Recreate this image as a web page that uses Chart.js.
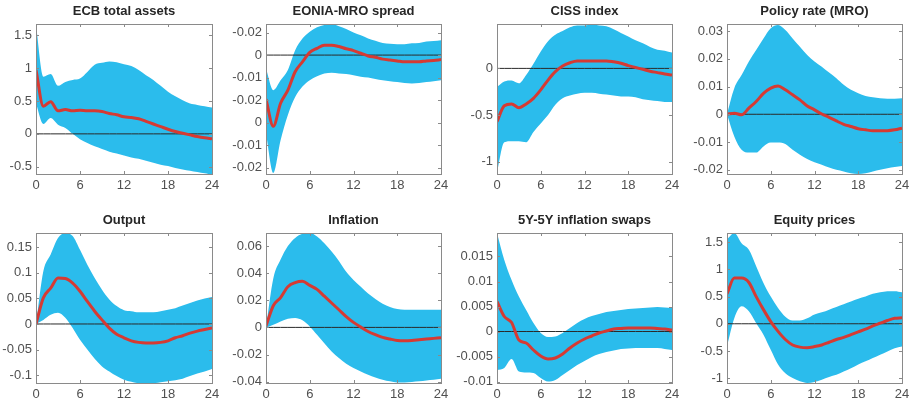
<!DOCTYPE html>
<html>
<head>
<meta charset="utf-8">
<script src="https://cdn.jsdelivr.net/npm/chart.js@4.4.1/dist/chart.umd.min.js"></script>
<style>
  html, body { margin: 0; padding: 0; background: #fff; }
  #wrap { position: relative; width: 912px; height: 405px; overflow: hidden; }
  .panel { position: absolute; }
</style>
</head>
<body>
<div id="wrap"></div>
<script>
// horizon (months)
const horizon = [0,1,2,3,4,5,6,7,8,9,10,11,12,13,14,15,16,17,18,19,20,21,22,23,24];

const titles = ['ECB total assets', 'EONIA-MRO spread', 'CISS index', 'Policy rate (MRO)',
                'Output', 'Inflation', '5Y-5Y inflation swaps', 'Equity prices'];

// median responses
const ecbMed    = [0.97,0.42,0.49,0.35,0.37,0.35,0.36,0.35,0.35,0.34,0.31,0.29,0.26,0.25,0.23,0.19,0.15,0.11,0.07,0.035,0.01,-0.015,-0.04,-0.06,-0.075];
const eoniaMed  = [-0.0098,-0.0158,-0.0107,-0.0078,-0.0037,-0.0015,0.0006,0.0015,0.0022,0.0022,0.0019,0.0014,0.001,0.0004,-0.0002,-0.0005,-0.0009,-0.0011,-0.0013,-0.0015,-0.0015,-0.0015,-0.0013,-0.0012,-0.001];
const cissMed   = [-0.57,-0.40,-0.38,-0.42,-0.38,-0.32,-0.23,-0.125,-0.035,0.025,0.06,0.08,0.08,0.08,0.08,0.08,0.07,0.055,0.03,0.01,-0.01,-0.03,-0.045,-0.06,-0.07];
const policyMed = [0,0.0004,-0.0002,0.0022,0.0046,0.0075,0.0094,0.0102,0.0088,0.007,0.0052,0.003,0.0016,0.0001,-0.0011,-0.0024,-0.0036,-0.0044,-0.0052,-0.0056,-0.0059,-0.0059,-0.0059,-0.0056,-0.005];
const outputMed = [0,0.051,0.07,0.09,0.089,0.08,0.064,0.044,0.025,0.008,-0.008,-0.02,-0.027,-0.033,-0.036,-0.037,-0.037,-0.036,-0.033,-0.027,-0.023,-0.018,-0.014,-0.011,-0.008];
const inflMed   = [0.001,0.016,0.022,0.03,0.033,0.034,0.031,0.028,0.023,0.018,0.013,0.008,0.0037,0.0002,-0.003,-0.0054,-0.0074,-0.0086,-0.0096,-0.0098,-0.0096,-0.0091,-0.0086,-0.0081,-0.0076];
const swapMed   = [0.006,0.003,0.0018,-0.0017,-0.0023,-0.0037,-0.0049,-0.0055,-0.0053,-0.0045,-0.0033,-0.0023,-0.0015,-0.0009,-0.0003,0.0001,0.0005,0.0006,0.0007,0.0007,0.0007,0.0007,0.0006,0.0005,0.0003];
const equityMed = [0.55,0.84,0.84,0.76,0.5,0.26,0.04,-0.14,-0.29,-0.39,-0.43,-0.44,-0.42,-0.39,-0.34,-0.29,-0.25,-0.2,-0.15,-0.1,-0.04,0.01,0.06,0.1,0.11];

// upper bands
const ecbHi    = [1.65,0.87,0.91,0.73,0.79,0.82,0.84,0.94,1.05,1.08,1.1,1.09,1.06,1.03,0.97,0.89,0.82,0.73,0.64,0.57,0.51,0.46,0.44,0.42,0.4];
const eoniaHi  = [-0.003,-0.0078,-0.0056,-0.0033,0.0011,0.0037,0.0052,0.0062,0.0067,0.0069,0.0064,0.0058,0.005,0.0044,0.0037,0.0032,0.0027,0.0025,0.0024,0.0024,0.0026,0.0027,0.003,0.0031,0.0033];
const cissHi   = [-0.2,-0.14,-0.13,-0.16,-0.07,0.05,0.18,0.29,0.36,0.4,0.44,0.46,0.46,0.47,0.46,0.45,0.42,0.38,0.34,0.3,0.27,0.23,0.2,0.19,0.17];
const policyHi = [0,0.0094,0.0141,0.019,0.0231,0.0273,0.031,0.0321,0.0303,0.0273,0.0243,0.0213,0.019,0.0171,0.015,0.013,0.0106,0.0088,0.0076,0.0066,0.0061,0.0058,0.0056,0.0056,0.0058];
const outputHi = [0,0.103,0.136,0.168,0.178,0.172,0.145,0.116,0.09,0.067,0.048,0.035,0.027,0.025,0.023,0.023,0.023,0.025,0.028,0.031,0.036,0.041,0.046,0.05,0.053];
const inflHi   = [0,0.036,0.05,0.06,0.066,0.069,0.0696,0.067,0.062,0.056,0.049,0.041,0.035,0.03,0.025,0.021,0.0175,0.015,0.0135,0.013,0.013,0.013,0.013,0.013,0.013];
const swapHi   = [0.0197,0.0143,0.0103,0.007,0.0043,0.0017,-0.0003,-0.0011,-0.001,-0.0003,0.0007,0.0017,0.0025,0.0031,0.0035,0.0039,0.0041,0.0043,0.0045,0.0046,0.0047,0.0048,0.0049,0.0048,0.0047];
const equityHi = [1.55,1.67,1.48,1.36,1.06,0.75,0.5,0.29,0.13,0.06,0.06,0.1,0.17,0.21,0.26,0.31,0.36,0.41,0.46,0.5,0.55,0.58,0.6,0.6,0.58];

// lower bands
const ecbLo    = [0.46,0.15,0.24,0.14,0.09,0,-0.08,-0.14,-0.19,-0.23,-0.27,-0.3,-0.33,-0.36,-0.38,-0.41,-0.44,-0.47,-0.49,-0.52,-0.54,-0.56,-0.58,-0.6,-0.62];
const eoniaLo  = [-0.0174,-0.0262,-0.0189,-0.0133,-0.0093,-0.007,-0.0056,-0.0047,-0.0041,-0.0039,-0.0041,-0.0042,-0.0045,-0.0048,-0.005,-0.0053,-0.0056,-0.0058,-0.006,-0.0062,-0.0063,-0.0062,-0.006,-0.0058,-0.0056];
const cissLo   = [-1.12,-0.79,-0.78,-0.78,-0.79,-0.68,-0.59,-0.5,-0.39,-0.32,-0.29,-0.27,-0.26,-0.26,-0.27,-0.28,-0.29,-0.3,-0.3,-0.31,-0.33,-0.34,-0.35,-0.36,-0.36];
const policyLo = [0,-0.008,-0.0128,-0.0138,-0.0138,-0.0116,-0.0102,-0.0102,-0.0107,-0.0128,-0.0146,-0.0161,-0.0173,-0.0182,-0.0192,-0.02,-0.0206,-0.0212,-0.0215,-0.0212,-0.0206,-0.02,-0.0194,-0.019,-0.0186];
const outputLo = [0,0.008,0.018,0.022,0.012,-0.008,-0.031,-0.05,-0.068,-0.083,-0.093,-0.102,-0.109,-0.113,-0.116,-0.117,-0.116,-0.114,-0.112,-0.11,-0.107,-0.102,-0.097,-0.093,-0.088];
const inflLo   = [0,0.002,0.0044,0.0064,0.0069,0.0052,0.0007,-0.0054,-0.0116,-0.0177,-0.0226,-0.0268,-0.03,-0.0325,-0.0349,-0.0369,-0.0386,-0.0398,-0.0406,-0.0406,-0.0403,-0.0398,-0.0391,-0.0386,-0.0379];
const swapLo   = [-0.0077,-0.0073,-0.0055,-0.008,-0.0082,-0.0083,-0.0093,-0.01,-0.0097,-0.0087,-0.0077,-0.0067,-0.0059,-0.0051,-0.0045,-0.0041,-0.0038,-0.0035,-0.0034,-0.0033,-0.0033,-0.0033,-0.0033,-0.0035,-0.0037];
const equityLo = [-0.42,0.1,0.32,0.23,0.01,-0.2,-0.48,-0.75,-0.91,-1.0,-1.06,-1.09,-1.07,-1.03,-0.98,-0.94,-0.88,-0.82,-0.75,-0.69,-0.63,-0.57,-0.51,-0.45,-0.42];

// y tick values and their printed labels
const ecbTicks    = [-0.5, 0, 0.5, 1, 1.5];
const eoniaTicks  = [-0.025, -0.02, -0.015, -0.01, -0.005, 0, 0.005];
const eoniaLabels = ['-0.02', '-0.01', '0', '-0.02', '-0.01', '0', '-0.02'];
const cissTicks   = [-1, -0.5, 0];
const policyTicks = [-0.02, -0.01, 0, 0.01, 0.02, 0.03];
const outputTicks = [-0.1, -0.05, 0, 0.05, 0.1, 0.15];
const inflTicks   = [-0.04, -0.02, 0, 0.02, 0.04, 0.06];
const swapTicks   = [-0.01, -0.005, 0, 0.005, 0.01, 0.015];
const equityTicks = [-1, -0.5, 0, 0.5, 1, 1.5];
const xTicks      = [0, 6, 12, 18, 24];

// y axis ranges
const yMins = [-0.61, -0.0264, -1.13, -0.0215, -0.1155, -0.041, -0.0103, -1.09];
const yMaxs = [1.67, 0.0069, 0.475, 0.0325, 0.178, 0.0696, 0.0197, 1.67];

const meds   = [ecbMed, eoniaMed, cissMed, policyMed, outputMed, inflMed, swapMed, equityMed];
const highs  = [ecbHi, eoniaHi, cissHi, policyHi, outputHi, inflHi, swapHi, equityHi];
const lows   = [ecbLo, eoniaLo, cissLo, policyLo, outputLo, inflLo, swapLo, equityLo];
const yTicks = [ecbTicks, eoniaTicks, cissTicks, policyTicks, outputTicks, inflTicks, swapTicks, equityTicks];
const yLabels = [null, eoniaLabels, null, null, null, null, null, null];

// layout of plot areas (pixels)
const colLeft  = [36, 266, 497, 727];
const colRight = [212, 441, 672, 902];
const rowTop   = [24, 233];
const plotH    = 150;
const titleH   = 24;
const xAxisH   = 22;
const padRight = 10;

const bandColor = '#2bbcec';
const lineColor = '#d63a33';
const axisColor = '#8a8a8a';
const textColor = '#505050';
const fontFamily = "'Liberation Sans', Arial, Helvetica, sans-serif";

const boxPlugin = {
    id: 'box',
    afterDraw(chart) {
        const a = chart.chartArea;
        const ctx = chart.ctx;
        const xs = chart.scales.x, ys = chart.scales.y;
        ctx.save();
        ctx.strokeStyle = axisColor;
        ctx.lineWidth = 1;
        ctx.strokeRect(Math.round(a.left) + 0.5, Math.round(a.top) + 0.5,
                       Math.round(a.right - a.left), Math.round(a.bottom - a.top));
        ctx.beginPath();
        xs.ticks.forEach(t => {
            const px = Math.round(xs.getPixelForValue(t.value)) + 0.5;
            ctx.moveTo(px, a.bottom); ctx.lineTo(px, a.bottom - 3);
            ctx.moveTo(px, a.top); ctx.lineTo(px, a.top + 3);
        });
        ys.ticks.forEach(t => {
            const py = Math.round(ys.getPixelForValue(t.value)) + 0.5;
            ctx.moveTo(a.left, py); ctx.lineTo(a.left + 3, py);
            ctx.moveTo(a.right, py); ctx.lineTo(a.right - 3, py);
        });
        ctx.stroke();
        ctx.restore();
    }
};

const wrap = document.getElementById('wrap');

titles.forEach((title, i) => {
    const col = i % 4, row = Math.floor(i / 4);
    const yW = col === 0 ? 36 : 48;
    const left = colLeft[col] - yW;
    const top = rowTop[row] - titleH;
    const width = yW + (colRight[col] - colLeft[col]) + padRight;
    const height = titleH + plotH + xAxisH;

    const box = document.createElement('div');
    box.className = 'panel';
    box.style.left = left + 'px';
    box.style.top = top + 'px';
    box.style.width = width + 'px';
    box.style.height = height + 'px';
    const cv = document.createElement('canvas');
    box.appendChild(cv);
    wrap.appendChild(box);

    const pts = arr => horizon.map((h, k) => ({ x: h, y: arr[k] }));
    const labels = yLabels[i];
    const ticksY = yTicks[i];

    new Chart(cv, {
        type: 'line',
        data: {
            datasets: [{
                data: pts(meds[i]),
                borderColor: lineColor,
                borderWidth: 3,
                pointRadius: 0,
                cubicInterpolationMode: 'monotone',
                fill: false
            }, {
                data: pts(horizon.map(() => 0)),
                borderColor: '#2a2a2a',
                borderWidth: 1,
                pointRadius: 0,
                fill: false
            }, {
                data: pts(highs[i]),
                borderWidth: 0,
                borderColor: bandColor,
                backgroundColor: bandColor,
                pointRadius: 0,
                cubicInterpolationMode: 'monotone',
                fill: '+1'
            }, {
                data: pts(lows[i]),
                borderWidth: 0,
                borderColor: bandColor,
                pointRadius: 0,
                cubicInterpolationMode: 'monotone',
                fill: false
            }]
        },
        options: {
            responsive: true,
            maintainAspectRatio: false,
            animation: false,
            layout: { padding: { left: 0, right: padRight, top: 0, bottom: 0 } },
            plugins: {
                legend: { display: false },
                tooltip: { enabled: false },
                title: {
                    display: true,
                    fullSize: false,
                    text: title,
                    color: '#262626',
                    font: { family: fontFamily, size: 13, weight: 'bold', lineHeight: 1.2 },
                    padding: { top: 4, bottom: 4.4 }
                }
            },
            scales: {
                x: {
                    type: 'linear',
                    min: 0,
                    max: 24,
                    grid: { display: false, drawTicks: false },
                    border: { display: false },
                    afterBuildTicks: s => { s.ticks = xTicks.map(v => ({ value: v })); },
                    afterFit: s => { s.height = xAxisH; s.paddingLeft = 0; s.paddingRight = 0; },
                    ticks: {
                        color: textColor,
                        padding: 4,
                        maxRotation: 0,
                        autoSkip: false,
                        font: { family: fontFamily, size: 13 },
                        callback: v => String(v)
                    }
                },
                y: {
                    min: yMins[i],
                    max: yMaxs[i],
                    grid: { display: false, drawTicks: false },
                    border: { display: false },
                    afterBuildTicks: s => { s.ticks = ticksY.map(v => ({ value: v })); },
                    afterFit: s => { s.width = yW; s.paddingTop = 0; s.paddingBottom = 0; },
                    ticks: {
                        color: textColor,
                        padding: 4,
                        autoSkip: false,
                        font: { family: fontFamily, size: 13 },
                        callback: function (v) {
                            const k = ticksY.indexOf(v);
                            if (labels && k >= 0) return labels[k];
                            return String(v);
                        }
                    }
                }
            }
        },
        plugins: [boxPlugin]
    });
});
</script>
</body>
</html>
